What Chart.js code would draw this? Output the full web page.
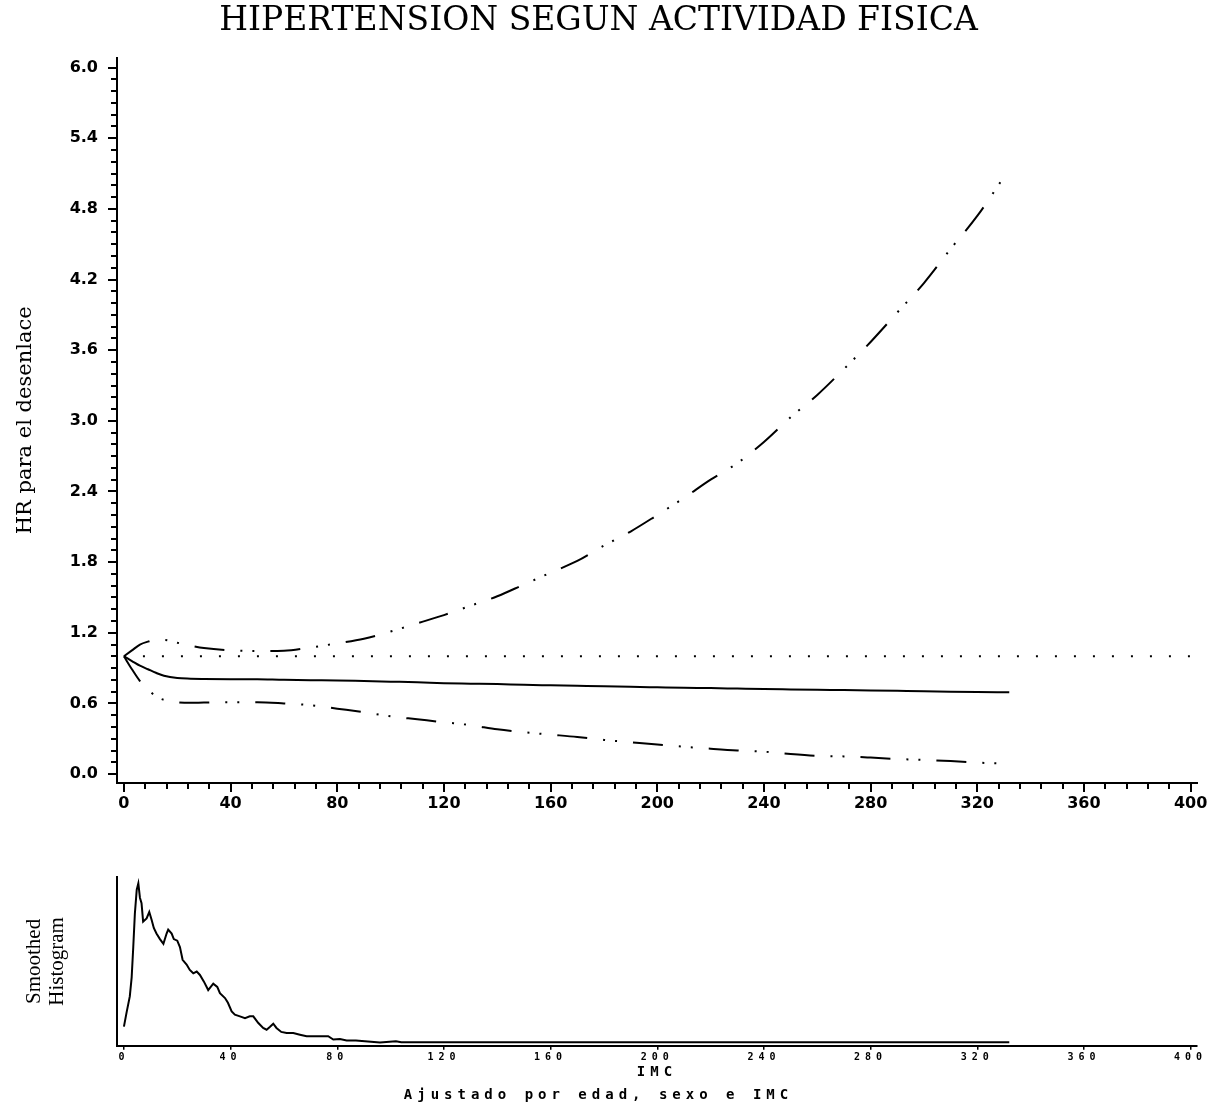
<!DOCTYPE html>
<html>
<head>
<meta charset="utf-8">
<title>Hipertension segun actividad fisica</title>
<script src="https://cdn.jsdelivr.net/npm/chart.js@4.4.0/dist/chart.umd.min.js"></script>
<style>
  body { margin: 0; background: #fff; }
  #wrap { position: relative; width: 1226px; height: 1109px; }
  canvas { position: absolute; left: 0; }
  #hr { top: 0; }
  #hist { top: 830px; }
</style>
</head>
<body>
<div id="wrap">
  <canvas id="hr" width="1226" height="830"></canvas>
  <canvas id="hist" width="1226" height="279"></canvas>
</div>
<script>
// valores
var imc = [0, 3, 6, 9, 12, 15, 20, 25, 30, 40, 50, 60, 70, 80, 90, 100, 110, 120, 130, 140, 150,
  160, 170, 180, 190, 200, 210, 220, 230, 240, 250, 260, 270, 280, 290, 300, 310, 320, 332];
var hrEstimate = [1.0, 0.96, 0.92, 0.89, 0.86, 0.835, 0.815, 0.81, 0.808, 0.806, 0.805, 0.80, 0.797,
  0.795, 0.79, 0.785, 0.78, 0.772, 0.768, 0.764, 0.758, 0.754, 0.75, 0.746, 0.741, 0.737, 0.733,
  0.73, 0.726, 0.722, 0.719, 0.716, 0.713, 0.71, 0.707, 0.704, 0.70, 0.697, 0.694];
var hrUpper = [1.0, 1.05, 1.10, 1.125, 1.14, 1.14, 1.115, 1.09, 1.07, 1.05, 1.045, 1.048, 1.075,
  1.11, 1.15, 1.21, 1.28, 1.35, 1.43, 1.51, 1.61, 1.71, 1.81, 1.94, 2.06, 2.20, 2.345, 2.50, 2.64,
  2.82, 3.03, 3.22, 3.44, 3.67, 3.92, 4.17, 4.46, 4.74, 5.14];
var hrLower = [1.0, 0.89, 0.79, 0.72, 0.66, 0.63, 0.61, 0.605, 0.608, 0.61, 0.61, 0.60, 0.585,
  0.555, 0.525, 0.49, 0.465, 0.44, 0.415, 0.38, 0.355, 0.335, 0.315, 0.29, 0.27, 0.25, 0.232,
  0.215, 0.20, 0.19, 0.17, 0.155, 0.15, 0.14, 0.128, 0.12, 0.11, 0.097, 0.088];
var refX = [0, 400];
var refY = [1.0, 1.0];

var histX = [0, 1, 2.2, 2.9, 3.5, 4.1, 4.8, 5.4, 6, 6.6, 7.2, 8.5, 9.5, 10.4, 11.2, 12.2, 13.5,
  14.8, 16, 16.6, 17.9, 18.7, 20, 21, 22, 23.5, 24.7, 26, 27.3, 28.5, 30, 31.6, 33.5, 35, 36, 37.9,
  39, 40.4, 41.6, 43.5, 45.4, 47.2, 48.5, 50.4, 52.2, 53.5, 54.7, 56, 57.2, 59, 61, 63.5, 66, 68.5,
  72, 76.6, 78.5, 81, 83.5, 87, 96, 102, 104, 332];
var histY = [0.10, 0.19, 0.29, 0.41, 0.60, 0.81, 0.96, 1.0, 0.91, 0.875, 0.76, 0.78, 0.82, 0.77,
  0.72, 0.685, 0.65, 0.62, 0.685, 0.71, 0.685, 0.65, 0.64, 0.60, 0.52, 0.49, 0.456, 0.435, 0.446,
  0.425, 0.383, 0.33, 0.37, 0.35, 0.31, 0.28, 0.25, 0.196, 0.175, 0.165, 0.154, 0.165, 0.165,
  0.123, 0.092, 0.081, 0.098, 0.119, 0.092, 0.067, 0.06, 0.06, 0.05, 0.04, 0.04, 0.04, 0.019,
  0.023, 0.014, 0.014, 0.0, 0.008, 0.002, 0.002];

var xTicks = [0, 40, 80, 120, 160, 200, 240, 280, 320, 360, 400];
var yTicks = [0.0, 0.6, 1.2, 1.8, 2.4, 3.0, 3.6, 4.2, 4.8, 5.4, 6.0];

function pts(xs, ys) {
  return xs.map(function(x, i) { return {x: x, y: ys[i]}; });
}

Chart.defaults.color = '#000';
Chart.defaults.animation = false;

var serif = "'DejaVu Serif', 'Liberation Serif', serif";
var serifNarrow = "'Liberation Serif', serif";
var sans = "'DejaVu Sans', sans-serif";
var mono = "'DejaVu Sans Mono', monospace";

// marcas menores de los ejes (cada 8 en x, cada 0.1 en y)
var minorTicks = {
  id: 'minorTicks',
  afterDraw: function(chart) {
    var ctx = chart.ctx, area = chart.chartArea;
    var xs = chart.scales.x, ys = chart.scales.y;
    ctx.save();
    ctx.strokeStyle = '#000';
    ctx.lineWidth = 2;
    ctx.beginPath();
    for (var v = 8; v < 400; v += 8) {
      if (v % 40 === 0) continue;
      var px = Math.round(xs.getPixelForValue(v));
      ctx.moveTo(px, area.bottom);
      ctx.lineTo(px, area.bottom + 6);
    }
    for (var i = 1; i < 60; i++) {
      if (i % 6 === 0) continue;
      var py = Math.round(ys.getPixelForValue(i / 10));
      ctx.moveTo(area.left - 6, py);
      ctx.lineTo(area.left, py);
    }
    ctx.stroke();
    ctx.restore();
  }
};

var lineStyle = {borderColor: '#000', borderWidth: 2, pointRadius: 0, fill: false};
var dashDot = [30, 16, 2, 10, 2, 16];

var config = {
  type: 'line',
  data: {
    datasets: [
      Object.assign({label: 'referencia', data: pts(refX, refY), borderDash: [2, 17]}, lineStyle),
      Object.assign({label: 'HR', data: pts(imc, hrEstimate), cubicInterpolationMode: 'monotone'}, lineStyle),
      Object.assign({label: 'IC inferior', data: pts(imc, hrLower), borderDash: dashDot, cubicInterpolationMode: 'monotone'}, lineStyle),
      Object.assign({label: 'IC superior', data: pts(imc, hrUpper), borderDash: dashDot, cubicInterpolationMode: 'monotone'}, lineStyle)
    ]
  },
  options: {
    responsive: false,
    layout: {padding: {top: 0, right: 29, bottom: 0, left: 0}},
    plugins: {
      legend: {display: false},
      tooltip: {enabled: false},
      title: {
        display: true,
        text: 'HIPERTENSION SEGUN ACTIVIDAD FISICA',
        font: {family: serif, size: 33, weight: 'normal', lineHeight: 1.2},
        padding: {top: 2, bottom: 16}
      }
    },
    scales: {
      x: {
        type: 'linear',
        min: -2.6,
        max: 402.4,
        afterBuildTicks: function(scale) {
          scale.ticks = xTicks.map(function(v) { return {value: v}; });
        },
        afterFit: function(scale) { scale.height = 47; },
        grid: {drawOnChartArea: false, color: '#000', lineWidth: 2, tickLength: 9},
        border: {color: '#000', width: 2},
        ticks: {font: {family: sans, size: 16, weight: 'bold'}, padding: 2, maxRotation: 0, autoSkip: false}
      },
      y: {
        type: 'linear',
        min: -0.076,
        max: 6.085,
        afterBuildTicks: function(scale) {
          scale.ticks = yTicks.map(function(v) { return {value: v}; });
        },
        afterFit: function(scale) { scale.width = 117; },
        grid: {drawOnChartArea: false, color: '#000', lineWidth: 2, tickLength: 9},
        border: {color: '#000', width: 2},
        ticks: {
          font: {family: sans, size: 16, weight: 'bold'},
          padding: 10,
          autoSkip: false,
          callback: function(v) { return v.toFixed(1); }
        },
        title: {
          display: true,
          text: 'HR para el desenlace',
          font: {family: serif, size: 21, weight: 'normal', lineHeight: 1.2},
          padding: {top: 13, bottom: 0}
        }
      }
    }
  },
  plugins: [minorTicks]
};

// texto espaciado como en el original (ejes y pie), titulo vertical sin espaciar
var spacedText = {
  id: 'spacedText',
  beforeDraw: function(chart) { chart.ctx.letterSpacing = '5px'; },
  afterDatasetsDraw: function(chart) { chart.ctx.letterSpacing = '0px'; }
};

var histConfig = {
  type: 'line',
  data: {
    datasets: [
      Object.assign({label: 'Smoothed Histogram', data: pts(histX, histY)}, lineStyle)
    ]
  },
  options: {
    responsive: false,
    layout: {padding: {top: 47, right: 29, bottom: 0, left: 0}},
    plugins: {
      legend: {display: false},
      tooltip: {enabled: false},
      title: {
        display: true,
        position: 'bottom',
        text: 'Ajustado por edad, sexo e IMC',
        font: {family: mono, size: 14, weight: 'bold', lineHeight: 1.2},
        padding: {top: 2, bottom: 5}
      }
    },
    scales: {
      x: {
        type: 'linear',
        min: -2.6,
        max: 402.4,
        afterBuildTicks: function(scale) {
          scale.ticks = xTicks.map(function(v) { return {value: v}; });
        },
        afterFit: function(scale) { scale.height = 39.4; },
        grid: {drawOnChartArea: false, color: '#000', lineWidth: 1.5, tickLength: 4},
        border: {color: '#000', width: 2},
        ticks: {font: {family: mono, size: 10, weight: 'bold'}, padding: 2, maxRotation: 0, autoSkip: false},
        title: {
          display: true,
          text: 'IMC',
          font: {family: mono, size: 14, weight: 'bold', lineHeight: 1.2},
          padding: {top: 0, bottom: 4}
        }
      },
      y: {
        type: 'linear',
        min: -0.02,
        max: 1.04,
        afterFit: function(scale) { scale.width = 117; },
        grid: {display: false, z: 1},
        border: {color: '#000', width: 2, z: 2},
        ticks: {display: false},
        title: {
          display: true,
          text: ['Smoothed', 'Histogram'],
          font: {family: serifNarrow, size: 21, weight: 'normal', lineHeight: 1.1},
          padding: {top: 23, bottom: 0}
        }
      }
    }
  },
  plugins: [spacedText]
};

var chart1 = new Chart(document.getElementById('hr'), config);
var chart2 = new Chart(document.getElementById('hist'), histConfig);
</script>
</body>
</html>
